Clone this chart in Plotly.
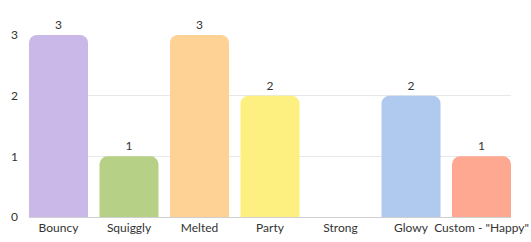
import plotly.graph_objects as go

categories = ["Bouncy", "Squiggly", "Melted", "Party", "Strong", "Glowy", 'Custom - "Happy"']
counts = [3, 1, 3, 2, 0, 2, 1]
colors = ["#c9b8e8", "#b6d186", "#fed194", "#fdf080", "#e8e8e8", "#b0c9ee", "#fea891"]
y_ticks = [0, 1, 2, 3]

labels = [str(v) if v else "" for v in counts]

fig = go.Figure(go.Bar(
    x=list(range(len(categories))),
    y=counts,
    marker=dict(color=colors, line=dict(width=0)),
    text=labels,
    textposition="outside",
    textfont=dict(family="Lato", size=12, color="#333333"),
    cliponaxis=False,
    hoverinfo="skip",
))

fig.update_layout(
    width=531, height=242,
    margin=dict(l=29, r=20, t=35, b=25, autoexpand=False),
    paper_bgcolor="white", plot_bgcolor="white",
    bargap=0.163,
    barcornerradius=8,
    showlegend=False,
    font=dict(family="Lato", size=12, color="#333333"),
    xaxis=dict(
        tickmode="array",
        tickvals=list(range(len(categories))),
        ticktext=categories,
        range=[-0.4185, len(categories) - 1 + 0.4185],
        showgrid=False, zeroline=False,
        showline=False,
        ticks="", ticklen=0,
        ticklabelstandoff=2,
        automargin=False,
        tickfont=dict(family="Lato", size=12, color="#333333"),
        fixedrange=True,
    ),
    yaxis=dict(
        range=[0, 3],
        tickmode="array", tickvals=y_ticks,
        showgrid=True, gridcolor="#e8e8e8", gridwidth=1,
        zeroline=True, zerolinecolor="#d0d0d0", zerolinewidth=1,
        showline=False, ticks="",
        automargin=False,
        ticklabelstandoff=10,
        tickfont=dict(family="Lato", size=12, color="#333333"),
        fixedrange=True,
    ),
)

fig.write_html("out.html", config={"displayModeBar": False})
